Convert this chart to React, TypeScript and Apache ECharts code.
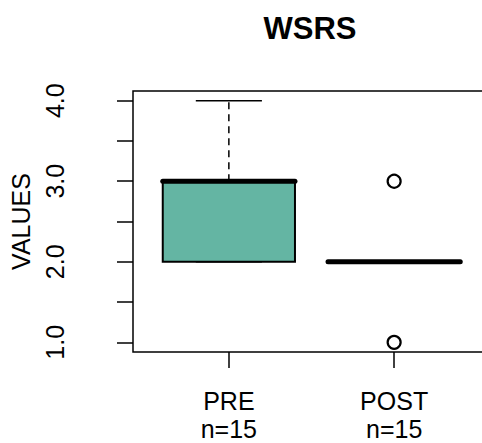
import React, { useEffect, useRef } from "react";
import * as echarts from "echarts";

const title = "WSRS";
const yAxisName = "VALUES";
const categories = ["PRE", "POST"];
const sampleSizes = ["n=15", "n=15"];
// [min, Q1, median, Q3, max]
const boxStats = [
  [2, 2, 3, 3, 4],
  [2, 2, 2, 2, 2],
];
// outliers as [group position, value]
const outliers = [
  [2, 3],
  [2, 1],
];
const yTickValues = [1, 1.5, 2, 2.5, 3, 3.5, 4];
const yLabelValues = [1, 2, 3, 4];
const xPositions = [1, 2];

const boxFill = ["#64B5A3", "#64B5A3"];
const FONT = "'Liberation Sans', Arial, Helvetica, sans-serif";

export default function App() {
  const ref = useRef<HTMLDivElement>(null);
  useEffect(() => {
    if (!ref.current) return;
    const chart = echarts.init(ref.current, null, { renderer: "svg" });
    const boxData = boxStats.map((s, i) => [xPositions[i], ...s]);
    const option: any = {
      animation: false,
      backgroundColor: "#ffffff",
      graphic: [
        {
          type: "text",
          x: 310,
          y: 28,
          style: {
            text: title,
            fontFamily: FONT,
            fontSize: 31,
            fontWeight: "bold",
            fill: "#000",
            align: "center",
            verticalAlign: "middle",
          },
        },
      ],
      grid: {
        left: 133,
        top: 91,
        right: -8,
        bottom: 91,
        containLabel: false,
        outerBoundsMode: "none",
        show: true,
        borderColor: "#000",
        borderWidth: 1.5,
        backgroundColor: "transparent",
      },
      xAxis: {
        type: "value",
        min: 0.42,
        max: 2.58,
        splitLine: { show: false },
        axisLine: { show: false },
        axisTick: {
          show: true,
          customValues: xPositions,
          length: 16,
          lineStyle: { color: "#000", width: 1.5 },
        },
        axisLabel: {
          customValues: xPositions,
          margin: 35,
          fontFamily: FONT,
          fontSize: 25,
          lineHeight: 28,
          color: "#000",
          formatter: (v: number) => {
            const i = xPositions.indexOf(v);
            return i >= 0 ? categories[i] + "\n" + sampleSizes[i] : "";
          },
        },
      },
      yAxis: {
        type: "value",
        min: 0.88,
        max: 4.12,
        name: yAxisName,
        nameLocation: "middle",
        nameRotate: 90,
        nameGap: 100,
        nameTextStyle: { fontFamily: FONT, fontSize: 25, color: "#000" },
        splitLine: { show: false },
        axisLine: { show: false },
        axisTick: {
          show: true,
          customValues: yTickValues,
          length: 16,
          lineStyle: { color: "#000", width: 1.5 },
        },
        axisLabel: {
          customValues: yLabelValues,
          rotate: 90,
          margin: 66,
          fontFamily: FONT,
          fontSize: 25,
          color: "#000",
          formatter: (v: number) => v.toFixed(1),
        },
      },
      series: [
        {
          type: "custom",
          data: boxData,
          encode: { x: 0, y: [1, 2, 3, 4, 5] },
          renderItem: (params: any, api: any) => {
            const x = api.value(0);
            const mn = api.value(1);
            const q1 = api.value(2);
            const md = api.value(3);
            const q3 = api.value(4);
            const mx = api.value(5);
            const half = 0.4;
            const staple = 0.2;
            const pL = api.coord([x - half, q3]);
            const pR = api.coord([x + half, q1]);
            const children: any[] = [];
            const c = api.coord([x, 0])[0];
            if (mx > q3) {
              children.push({
                type: "line",
                shape: { x1: c, y1: api.coord([x, q3])[1], x2: c, y2: api.coord([x, mx])[1] },
                style: { stroke: "#000", lineWidth: 1.5, lineDash: [7, 5] },
              });
            }
            if (mn < q1) {
              children.push({
                type: "line",
                shape: { x1: c, y1: api.coord([x, q1])[1], x2: c, y2: api.coord([x, mn])[1] },
                style: { stroke: "#000", lineWidth: 1.5, lineDash: [7, 5] },
              });
            }
            [mx, mn].forEach((v) => {
              const a = api.coord([x - staple, v]);
              const b = api.coord([x + staple, v]);
              children.push({
                type: "line",
                shape: { x1: a[0], y1: a[1], x2: b[0], y2: b[1] },
                style: { stroke: "#000", lineWidth: 1.5 },
              });
            });
            children.push({
              type: "rect",
              shape: { x: pL[0], y: pL[1], width: pR[0] - pL[0], height: pR[1] - pL[1] },
              style: { fill: boxFill[params.dataIndex], stroke: "#000", lineWidth: 2 },
            });
            const m1 = api.coord([x - half, md]);
            const m2 = api.coord([x + half, md]);
            children.push({
              type: "line",
              shape: { x1: m1[0], y1: m1[1], x2: m2[0], y2: m2[1] },
              style: { stroke: "#000", lineWidth: 5, lineCap: "round" },
            });
            return { type: "group", children };
          },
          z: 2,
        },
        {
          type: "scatter",
          data: outliers,
          symbol: "circle",
          symbolSize: 13,
          itemStyle: { color: "#fff", borderColor: "#000", borderWidth: 2.2, opacity: 1 },
          z: 3,
        },
      ],
    };
    chart.setOption(option);
    return () => chart.dispose();
  }, []);
  return (
    <div
      ref={ref}
      style={{ position: "fixed", left: 0, top: 0, width: 482, height: 443, background: "#fff" }}
    />
  );
}
